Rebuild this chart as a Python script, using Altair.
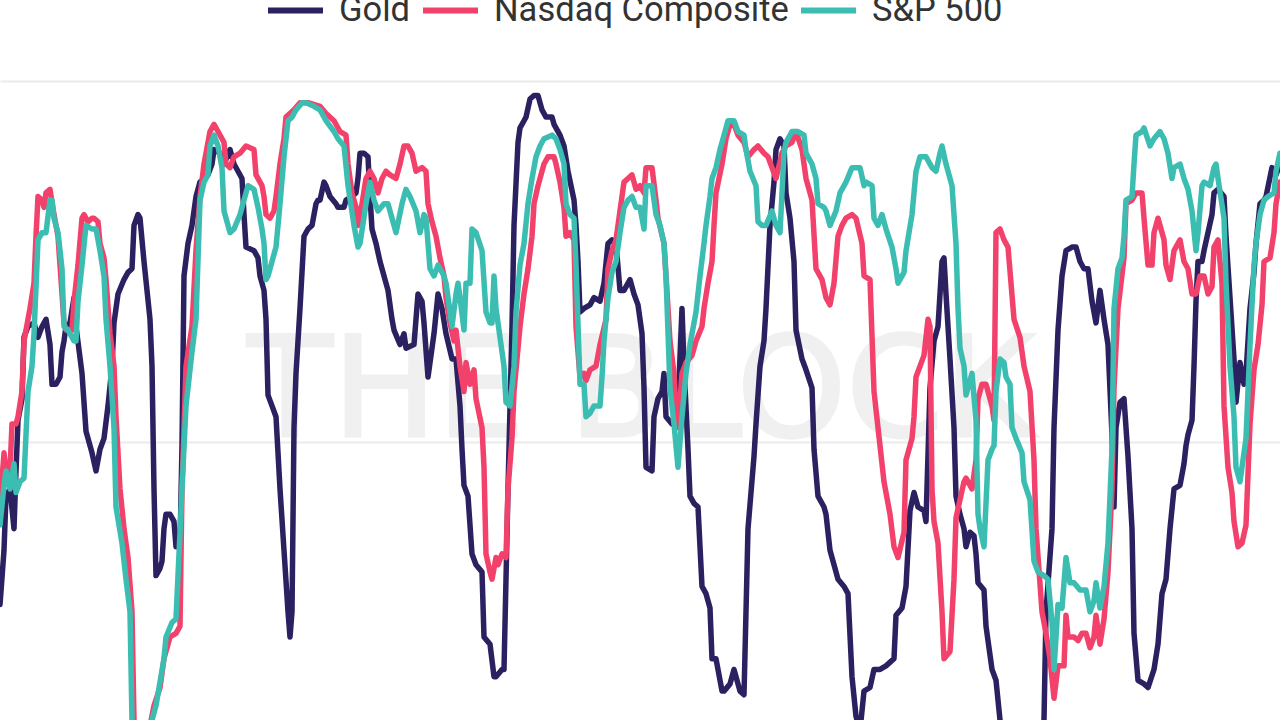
import altair as alt
import pandas as pd

series_names = ["Gold", "Nasdaq Composite", "S&P 500"]
series_colors = ["#2b2160", "#f2426b", "#3cbdb1"]
watermark_text = "THE BLOCK"

gold_day = [0, 2, 3, 5, 7, 8, 9, 11, 12, 14, 17, 19, 21, 23, 25, 26, 28, 30, 31, 32, 33, 35, 37, 38, 41, 43, 46, 48, 50, 52, 54, 56, 57, 59, 62, 64, 66, 67, 69, 70, 72, 75, 76, 77, 78, 80, 81, 82, 83, 85, 87, 88, 90, 91, 92, 94, 96, 98, 100, 102, 104, 106, 107, 110, 112, 115, 117, 119, 121, 122, 123, 127, 129, 130, 132, 133, 134, 136, 138, 140, 142, 144, 145, 146, 147, 148, 150, 152, 154, 156, 158, 159,
            160, 162, 163, 165, 168, 169, 172, 173, 176, 178, 179, 180, 182, 184, 185, 186, 188, 190, 192, 194, 196, 197, 200, 202, 203, 207, 209, 211, 212, 214, 215, 217, 219, 221, 223, 226, 228, 230, 231, 232, 234, 236, 238, 241, 242, 245, 247, 248, 251, 252, 254, 256, 257, 259, 260, 262, 263, 265, 267, 269, 271, 273, 276, 277, 280, 282, 284, 287, 288, 289, 290, 292, 295, 297, 300, 302, 304, 306, 308, 310, 312, 315, 317, 319, 321, 322, 323,
            326, 327, 329, 331, 332, 333, 336, 339, 341, 342, 344, 345, 347, 349, 351, 353, 355, 356, 358, 361, 362, 365, 367, 370, 372, 374, 377, 378, 380, 382, 383, 385, 387, 388, 390, 392, 393, 395, 397, 398, 401, 403, 406, 407, 409, 412, 413, 415, 417, 419, 422, 424, 426, 428, 430, 432, 435, 437, 440, 443, 447, 448, 451, 453, 455, 457, 459, 462, 463, 465, 467, 469, 471, 472, 473, 475, 477, 478,
            480, 482, 483, 485, 487, 488, 489, 492, 493, 496, 498, 500, 505, 511, 518, 522, 523, 526, 527, 529, 531, 533, 536, 538, 540, 542, 544, 546, 548, 550, 552, 554, 556, 557, 558, 560, 562, 564, 566, 567, 569, 572, 574, 577, 579, 581, 583, 585, 587, 590, 592, 593, 594, 596, 597, 598, 599, 601, 602, 604, 606, 607, 609, 612, 613, 615, 617, 618, 620, 622, 623, 625, 627, 628, 630, 632, 633, 636, 638, 640]
gold_corr = [-0.45, -0.30, -0.15, -0.13, -0.24, -0.08, 0.06, 0.12, 0.29, 0.32, 0.33, 0.29, 0.32, 0.34, 0.27, 0.16, 0.16, 0.18, 0.25, 0.28, 0.32, 0.33, 0.40, 0.32, 0.19, 0.03, -0.03, -0.08, -0.02, 0.01, 0.10, 0.21, 0.33, 0.41, 0.45, 0.47, 0.48, 0.60, 0.63, 0.62, 0.50, 0.34, 0.21, -0.13, -0.37, -0.35, -0.33, -0.24, -0.20, -0.20, -0.22, -0.29, -0.29, -0.01, 0.46, 0.55, 0.60, 0.68, 0.72, 0.73, 0.74, 0.77, 0.81, 0.80, 0.77, 0.81, 0.77, 0.75, 0.73, 0.63, 0.54, 0.53, 0.51, 0.46, 0.42, 0.34, 0.13, 0.10, 0.07, -0.13, -0.30, -0.47, -0.54, -0.47, 0.04, 0.19, 0.37, 0.57, 0.59, 0.60, 0.66, 0.67,
             0.67, 0.72, 0.71, 0.68, 0.66, 0.65, 0.65, 0.67, 0.68, 0.69, 0.73, 0.80, 0.80, 0.79, 0.68, 0.59, 0.55, 0.50, 0.46, 0.42, 0.34, 0.31, 0.27, 0.30, 0.26, 0.27, 0.41, 0.39, 0.33, 0.18, 0.22, 0.30, 0.41, 0.37, 0.30, 0.23, 0.23, 0.10, -0.02, -0.12, -0.15, -0.31, -0.34, -0.36, -0.54, -0.56, -0.65, -0.65, -0.63, -0.63, -0.13, 0.32, 0.60, 0.83, 0.87, 0.89, 0.90, 0.95, 0.96, 0.96, 0.92, 0.90, 0.90, 0.88, 0.85, 0.82, 0.75, 0.67, 0.60, 0.50, 0.36, 0.37, 0.38, 0.40, 0.39, 0.44, 0.55, 0.56, 0.55, 0.42, 0.42, 0.45, 0.41, 0.38, 0.30, 0.15, -0.07,
             -0.08, 0.07, 0.12, 0.14, 0.19, 0.07, 0.05, 0.10, 0.37, 0.21, -0.02, -0.15, -0.17, -0.18, -0.40, -0.42, -0.46, -0.60, -0.60, -0.69, -0.69, -0.67, -0.63, -0.69, -0.70, -0.24, -0.04, 0.05, 0.21, 0.28, 0.37, 0.60, 0.72, 0.81, 0.84, 0.82, 0.69, 0.62, 0.50, 0.31, 0.23, 0.20, 0.15, -0.02, -0.15, -0.18, -0.20, -0.30, -0.34, -0.38, -0.40, -0.42, -0.65, -0.76, -0.80, -0.69, -0.68, -0.63, -0.63, -0.62, -0.60, -0.48, -0.46, -0.40, -0.19, -0.14, -0.18, -0.19, -0.22, 0.15, 0.28, 0.32, 0.50, 0.51, 0.41, 0.23, 0.04, -0.15,
             -0.20, -0.24, -0.29, -0.25, -0.26, -0.31, -0.39, -0.41, -0.51, -0.63, -0.66, -0.77, -0.90, -0.95, -0.90, -0.77, -0.47, -0.24, 0.04, 0.31, 0.46, 0.53, 0.54, 0.54, 0.50, 0.48, 0.48, 0.39, 0.33, 0.42, 0.34, 0.27, 0.02, -0.18, 0.04, 0.11, 0.12, -0.04, -0.24, -0.53, -0.66, -0.67, -0.68, -0.63, -0.56, -0.42, -0.38, -0.24, -0.13, -0.12, -0.06, -0.01, 0.02, 0.06, 0.21, 0.39, 0.50, 0.50, 0.53, 0.58, 0.63, 0.69, 0.70, 0.68, 0.57, 0.40, 0.23, 0.11, 0.22, 0.16, 0.19, 0.37, 0.47, 0.55, 0.66, 0.67, 0.68, 0.76, 0.74, 0.77]

nasdaq_day = [0, 2, 3, 5, 6, 8, 9, 11, 12, 14, 15, 17, 18, 19, 21, 22, 23, 25, 27, 29, 30, 32, 33, 36, 37, 39, 41, 42, 44, 46, 47, 49, 50, 52, 53, 55, 57, 58, 60, 62, 64, 66, 67, 71, 77, 80, 82, 85, 88, 90, 91, 93, 96, 98, 100, 102, 105, 107, 109, 112, 113, 115, 117, 120, 123, 127, 128, 131, 132, 133, 135, 137, 138, 140, 142, 143, 147, 150, 154,
              160, 163, 167, 170, 173, 174, 176, 178, 179, 181, 183, 185, 187, 189, 191, 193, 195, 198, 200, 202, 204, 206, 208, 211, 213, 214, 216, 218, 220, 222, 223, 225, 227, 228, 230, 232, 233, 235, 237, 238, 241, 242, 243, 245, 246, 248, 249, 251, 253, 254, 256, 257, 260, 262, 264, 266, 267, 269, 272, 274, 277, 278, 280, 282, 283, 285, 287, 288, 290, 292, 293, 295, 298, 300, 303, 304, 306, 308, 310, 312, 314, 316, 318, 320,
              322, 323, 326, 328, 329, 332, 333, 335, 337, 338, 339, 341, 343, 346, 348, 351, 352, 354, 356, 357, 358, 361, 363, 365, 367, 369, 372, 374, 377, 379, 382, 384, 386, 388, 391, 393, 396, 398, 401, 403, 406, 408, 411, 413, 415, 417, 419, 421, 423, 426, 428, 431, 432, 435, 437, 439, 442, 445, 447, 449, 452, 453, 456, 457, 458, 460, 462, 464, 465, 466, 467, 469, 471, 472, 475, 477, 478, 480,
              482, 483, 486, 488, 489, 491, 493, 496, 497, 498, 500, 502, 504, 507, 510, 512, 515, 517, 518, 521, 523, 525, 527, 529, 532, 533, 534, 537, 539, 541, 543, 545, 547, 548, 550, 552, 554, 556, 557, 559, 562, 563, 566, 568, 571, 572, 574, 576, 577, 579, 582, 583, 585, 587, 590, 592, 594, 596, 598, 600, 602, 604, 606, 607, 609, 611, 612, 614, 616, 617, 619, 621, 623, 625, 627, 629, 631, 632, 635, 637, 638, 640]
nasdaq_corr = [-0.18, -0.03, -0.08, -0.08, 0.05, 0.05, 0.07, 0.14, 0.28, 0.34, 0.37, 0.44, 0.57, 0.68, 0.67, 0.65, 0.69, 0.70, 0.63, 0.57, 0.49, 0.33, 0.31, 0.31, 0.39, 0.49, 0.62, 0.63, 0.61, 0.62, 0.62, 0.61, 0.55, 0.51, 0.45, 0.30, 0.21, 0.07, -0.13, -0.24, -0.32, -0.47, -0.77, -0.90, -0.73, -0.68, -0.60, -0.54, -0.53, -0.51, -0.13, 0.21, 0.32, 0.53, 0.68, 0.77, 0.86, 0.88, 0.86, 0.83, 0.77, 0.76, 0.79, 0.80, 0.82, 0.81, 0.74, 0.71, 0.68, 0.63, 0.62, 0.64, 0.68, 0.77, 0.84, 0.90, 0.92, 0.94, 0.94,
               0.93, 0.91, 0.89, 0.86, 0.85, 0.77, 0.69, 0.65, 0.60, 0.66, 0.73, 0.75, 0.73, 0.69, 0.73, 0.75, 0.74, 0.73, 0.77, 0.82, 0.82, 0.80, 0.75, 0.76, 0.75, 0.66, 0.61, 0.57, 0.51, 0.46, 0.40, 0.33, 0.28, 0.31, 0.21, 0.14, 0.22, 0.16, 0.20, 0.12, 0.04, -0.07, -0.31, -0.36, -0.38, -0.32, -0.34, -0.31, -0.32, -0.13, 0.01, 0.14, 0.32, 0.41, 0.48, 0.57, 0.66, 0.71, 0.77, 0.79, 0.79, 0.77, 0.72, 0.65, 0.57, 0.58, 0.56, 0.32, 0.18, 0.19, 0.17, 0.20, 0.21, 0.27, 0.34, 0.48, 0.53, 0.56, 0.64, 0.72, 0.73, 0.74, 0.70, 0.71,
               0.69, 0.76, 0.76, 0.67, 0.62, 0.55, 0.46, 0.28, 0.19, 0.08, 0.04, 0.19, 0.22, 0.24, 0.28, 0.32, 0.37, 0.44, 0.50, 0.60, 0.69, 0.77, 0.84, 0.88, 0.88, 0.85, 0.83, 0.79, 0.81, 0.82, 0.80, 0.79, 0.76, 0.73, 0.80, 0.82, 0.83, 0.86, 0.81, 0.73, 0.67, 0.48, 0.45, 0.40, 0.38, 0.44, 0.57, 0.60, 0.62, 0.63, 0.62, 0.55, 0.46, 0.45, 0.14, 0.04, -0.11, -0.20, -0.29, -0.32, -0.25, -0.05, 0.01, 0.07, 0.18, 0.21, 0.24, 0.34, 0.32, -0.13, -0.22, -0.28, -0.47, -0.60, -0.58, -0.38, -0.21, -0.16,
               -0.11, -0.10, -0.13, -0.05, 0.12, 0.16, 0.16, 0.10, 0.06, 0.58, 0.59, 0.56, 0.54, 0.34, 0.29, 0.21, 0.14, -0.05, -0.24, -0.47, -0.53, -0.60, -0.71, -0.62, -0.62, -0.48, -0.54, -0.54, -0.55, -0.53, -0.53, -0.57, -0.54, -0.48, -0.56, -0.49, -0.36, -0.13, 0.15, 0.37, 0.51, 0.66, 0.67, 0.69, 0.69, 0.62, 0.49, 0.49, 0.58, 0.62, 0.56, 0.49, 0.45, 0.53, 0.56, 0.50, 0.48, 0.41, 0.41, 0.46, 0.46, 0.41, 0.43, 0.54, 0.56, 0.44, 0.10, -0.07, -0.14, -0.22, -0.29, -0.28, -0.23, 0.05, 0.20, 0.27, 0.38, 0.50, 0.51, 0.58, 0.66, 0.72]

sp_day = [0, 2, 3, 5, 7, 8, 10, 12, 14, 16, 17, 19, 21, 23, 25, 26, 27, 29, 31, 32, 34, 37, 38, 39, 41, 43, 46, 48, 50, 52, 53, 55, 57, 58, 61, 63, 65, 66, 71, 76, 78, 82, 83, 86, 88, 91, 93, 96, 98, 100, 102, 104, 105, 107, 109, 111, 112, 115, 117, 120, 122, 124, 127, 129, 131, 132, 133, 134, 136, 138, 140, 142, 144, 146, 148, 151, 153, 157,
          160, 163, 167, 169, 172, 174, 177, 179, 180, 183, 185, 187, 189, 192, 194, 196, 198, 201, 203, 205, 208, 210, 212, 213, 215, 217, 219, 220, 222, 223, 226, 228, 229, 230, 232, 233, 235, 236, 238, 241, 243, 245, 246, 247, 248, 250, 252, 253, 255, 257, 258, 260, 262, 264, 266, 268, 270, 272, 276, 278, 280, 282, 283, 285, 287, 288, 290, 292, 293, 295, 297, 300, 301, 302, 304, 306, 308, 310, 312, 314, 316, 318, 320,
          322, 323, 326, 328, 330, 332, 333, 335, 337, 339, 341, 343, 345, 348, 350, 352, 353, 355, 356, 358, 360, 362, 364, 367, 369, 372, 373, 375, 378, 379, 381, 383, 386, 388, 390, 392, 393, 396, 399, 402, 403, 406, 408, 409, 412, 413, 415, 418, 420, 423, 426, 428, 430, 432, 433, 436, 437, 439, 441, 443, 446, 448, 449, 452, 453, 456, 458, 460, 463, 466, 468, 470, 471, 473, 476, 478, 479, 480,
          482, 483, 485, 486, 488, 489, 490, 492, 494, 496, 497, 498, 500, 502, 503, 505, 506, 508, 511, 512, 515, 517, 519, 522, 524, 526, 527, 529, 531, 533, 535, 537, 540, 543, 545, 547, 548, 550, 552, 554, 556, 557, 559, 561, 562, 563, 566, 567, 568, 571, 572, 575, 577, 580, 582, 584, 586, 587, 590, 592, 594, 596, 598, 599, 601, 602, 605, 607, 608, 609, 612, 613, 615, 617, 618, 620, 622, 623, 625, 627, 628, 630, 632, 634, 637, 638, 640]
sp_corr = [-0.23, -0.12, -0.08, -0.13, -0.06, -0.14, -0.11, -0.10, 0.14, 0.21, 0.30, 0.56, 0.58, 0.58, 0.67, 0.67, 0.62, 0.58, 0.48, 0.32, 0.31, 0.28, 0.28, 0.39, 0.49, 0.60, 0.59, 0.59, 0.53, 0.46, 0.34, 0.21, 0.04, -0.18, -0.28, -0.38, -0.47, -0.77, -0.92, -0.77, -0.73, -0.60, -0.54, -0.50, -0.49, -0.13, 0.10, 0.25, 0.34, 0.67, 0.72, 0.74, 0.82, 0.85, 0.82, 0.76, 0.64, 0.58, 0.59, 0.63, 0.67, 0.71, 0.70, 0.65, 0.59, 0.55, 0.45, 0.46, 0.50, 0.54, 0.66, 0.79, 0.89, 0.90, 0.92, 0.94, 0.94, 0.93,
           0.92, 0.89, 0.86, 0.84, 0.82, 0.71, 0.60, 0.54, 0.55, 0.66, 0.72, 0.67, 0.64, 0.66, 0.66, 0.62, 0.58, 0.66, 0.70, 0.68, 0.64, 0.58, 0.63, 0.62, 0.48, 0.46, 0.49, 0.48, 0.46, 0.44, 0.32, 0.41, 0.44, 0.40, 0.31, 0.44, 0.44, 0.59, 0.58, 0.53, 0.36, 0.33, 0.33, 0.46, 0.37, 0.29, 0.21, 0.11, 0.10, 0.21, 0.36, 0.49, 0.55, 0.66, 0.73, 0.79, 0.82, 0.84, 0.85, 0.84, 0.81, 0.77, 0.66, 0.63, 0.62, 0.49, 0.16, 0.16, 0.07, 0.08, 0.10, 0.10, 0.18, 0.28, 0.40, 0.47, 0.50, 0.58, 0.65, 0.67, 0.68, 0.65, 0.65,
           0.59, 0.71, 0.71, 0.63, 0.60, 0.55, 0.46, 0.15, 0.05, -0.07, 0.07, 0.19, 0.27, 0.36, 0.46, 0.55, 0.60, 0.68, 0.73, 0.76, 0.81, 0.85, 0.89, 0.89, 0.86, 0.85, 0.81, 0.75, 0.71, 0.61, 0.60, 0.60, 0.64, 0.60, 0.58, 0.80, 0.83, 0.86, 0.86, 0.85, 0.80, 0.77, 0.73, 0.66, 0.65, 0.64, 0.60, 0.64, 0.69, 0.72, 0.76, 0.76, 0.76, 0.71, 0.72, 0.71, 0.62, 0.60, 0.63, 0.59, 0.54, 0.48, 0.44, 0.47, 0.53, 0.63, 0.75, 0.79, 0.79, 0.76, 0.75, 0.80, 0.82, 0.77, 0.71, 0.55, 0.37, 0.26,
           0.21, 0.13, 0.17, 0.19, 0.06, -0.20, -0.24, -0.29, -0.05, -0.02, -0.01, 0.14, 0.23, 0.22, 0.18, 0.16, 0.04, 0.01, -0.03, -0.11, -0.16, -0.33, -0.36, -0.37, -0.38, -0.50, -0.63, -0.45, -0.46, -0.32, -0.39, -0.39, -0.41, -0.41, -0.47, -0.44, -0.39, -0.46, -0.40, -0.28, -0.02, 0.37, 0.48, 0.51, 0.57, 0.67, 0.68, 0.77, 0.85, 0.86, 0.87, 0.82, 0.84, 0.86, 0.84, 0.80, 0.73, 0.76, 0.77, 0.73, 0.70, 0.64, 0.53, 0.58, 0.71, 0.72, 0.71, 0.76, 0.77, 0.73, 0.62, 0.44, 0.21, 0.07, -0.07, -0.11, -0.03, 0.01, 0.27, 0.49, 0.55, 0.63, 0.67, 0.68, 0.69, 0.75, 0.80]

rows = []
for name, days, vals in zip(series_names, [gold_day, nasdaq_day, sp_day], [gold_corr, nasdaq_corr, sp_corr]):
    for d, v in zip(days, vals):
        rows.append({"series": name, "day": d, "corr": v})
df = pd.DataFrame(rows)

watermark = alt.Chart(pd.DataFrame({"label": [watermark_text]})).mark_text(
    font="DejaVu Sans", fontSize=139, color="#f0f0f0", stroke="#f0f0f0", strokeWidth=3,
    align="center", baseline="alphabetic"
).encode(x=alt.value(641), y=alt.value(355), text="label:N")

lines = alt.Chart(df).mark_line(strokeWidth=5.5, strokeJoin="round", strokeCap="round", clip=True).encode(
    x=alt.X("day:Q", scale=alt.Scale(domain=[0, 640], nice=False, zero=False), axis=None),
    y=alt.Y("corr:Q", scale=alt.Scale(domain=[-0.77, 1], nice=False, zero=False),
            axis=alt.Axis(values=[0, 1], labels=False, ticks=False, domain=False, grid=True,
                          gridColor="#ebebeb", gridWidth=2, title=None)),
    color=alt.Color("series:N", sort=series_names,
                    scale=alt.Scale(domain=series_names, range=series_colors),
                    legend=alt.Legend(title=None, orient="none", legendX=265, legendY=-101,
                                      direction="horizontal", columns=3)),
)

chart = alt.layer(watermark, lines).properties(
    width=1280, height=639,
    autosize=alt.AutoSizeParams(type="none"),
    padding={"left": 0, "right": 0, "top": 81, "bottom": 0},
    background="white",
).configure_view(stroke=None).configure_legend(
    labelFont="Roboto", labelFontSize=34.5, labelColor="#333333", labelLimit=0,
    symbolType="stroke", symbolSize=3025, symbolStrokeWidth=6, labelOffset=13,
    columnPadding=0, padding=0,
)

chart.save("out.html", embed_options={"renderer": "svg", "actions": False})
